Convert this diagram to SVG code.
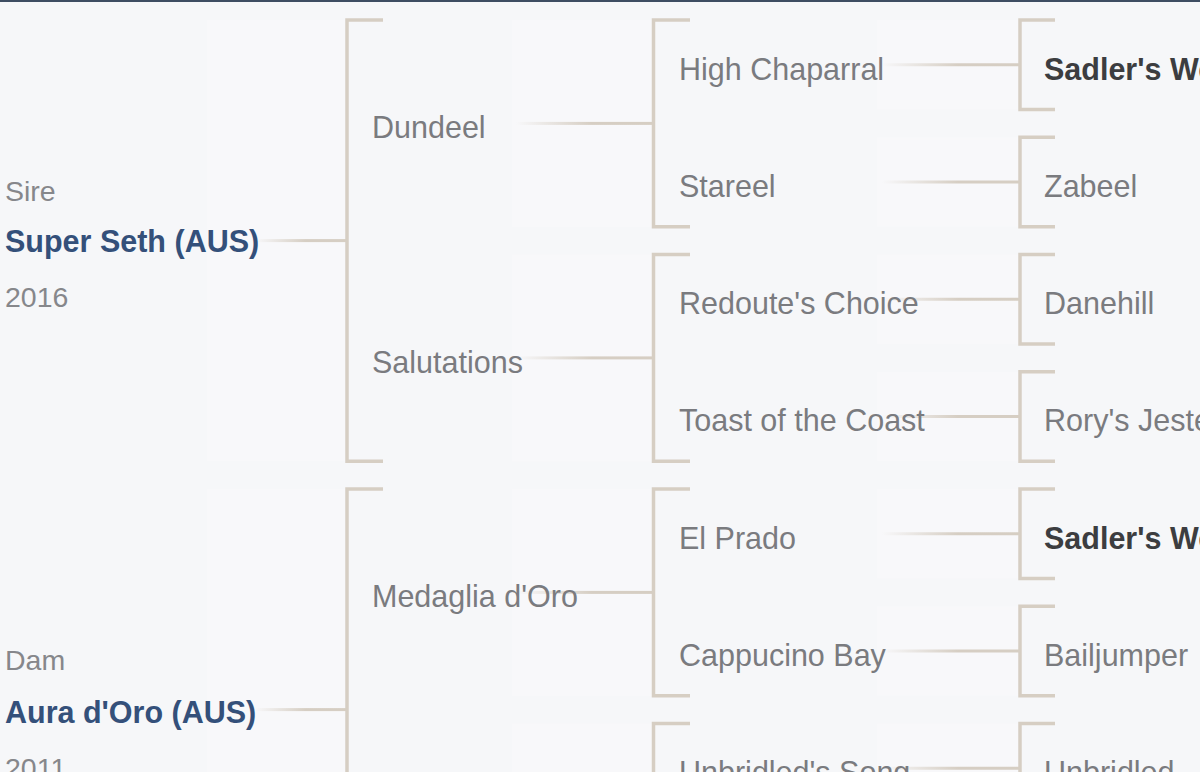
<svg xmlns="http://www.w3.org/2000/svg" width="1200" height="772" viewBox="0 0 1200 772">
<defs>
<linearGradient id="fade" x1="0" y1="0" x2="1" y2="0">
<stop offset="0" stop-color="#d6cec3" stop-opacity="0"/>
<stop offset="0.55" stop-color="#d6cec3" stop-opacity="1"/>
<stop offset="1" stop-color="#d6cec3" stop-opacity="1"/>
</linearGradient>
<style>
.bg{fill:#f6f7f9}
.panel{fill:#ffffff;opacity:0.22}
.br{fill:none;stroke:#d6cec3;stroke-width:3.5}
.con{fill:url(#fade)}
.nm{font-family:"Liberation Sans",Arial,sans-serif;font-size:30.5px;fill:#7a7b7f}
.bd{font-family:"Liberation Sans",Arial,sans-serif;font-size:30.5px;font-weight:700;fill:#3c3d40}
.main{font-family:"Liberation Sans",Arial,sans-serif;font-size:30.5px;font-weight:700;fill:#34507a}
.lb{font-family:"Liberation Sans",Arial,sans-serif;font-size:28.5px;fill:#86878b}
</style>
</defs>
<rect class="bg" x="0" y="0" width="1200" height="772"/>
<rect x="0" y="0" width="1200" height="2" fill="#3e4d62"/>
<g id="panels">
<rect class="panel" x="207" y="20" width="138" height="441"/>
<rect class="panel" x="207" y="489" width="138" height="441"/>
<rect class="panel" x="512" y="20" width="140" height="207"/>
<rect class="panel" x="512" y="254.5" width="140" height="207"/>
<rect class="panel" x="512" y="489" width="140" height="207"/>
<rect class="panel" x="512" y="723.5" width="140" height="207"/>
<rect class="panel" x="877" y="20" width="141" height="89.5"/>
<rect class="panel" x="877" y="137.25" width="141" height="89.5"/>
<rect class="panel" x="877" y="254.5" width="141" height="89.5"/>
<rect class="panel" x="877" y="371.75" width="141" height="89.5"/>
<rect class="panel" x="877" y="489" width="141" height="89.5"/>
<rect class="panel" x="877" y="606.25" width="141" height="89.5"/>
<rect class="panel" x="877" y="723.5" width="141" height="89.5"/>
</g>
<g id="connectors">
<path class="br" d="M383 20H347V461.25H383"/>
<path class="br" d="M383 489H347V930H383"/>
<path class="br" d="M690 20H653.5V226.75H690"/>
<path class="br" d="M690 254.5H653.5V461.25H690"/>
<path class="br" d="M690 489H653.5V695.75H690"/>
<path class="br" d="M690 723.5H653.5V930H690"/>
<path class="br" d="M1055 20H1020V109.5H1055"/>
<path class="br" d="M1055 137.25H1020V226.75H1055"/>
<path class="br" d="M1055 254.5H1020V344H1055"/>
<path class="br" d="M1055 371.75H1020V461.25H1055"/>
<path class="br" d="M1055 489H1020V578.5H1055"/>
<path class="br" d="M1055 606.25H1020V695.75H1055"/>
<path class="br" d="M1055 723.5H1020V813H1055"/>
<rect class="con" x="255" y="239.1" width="92" height="3"/>
<rect class="con" x="255" y="708.1" width="92" height="3"/>
<rect class="con" x="516" y="121.9" width="137.5" height="3"/>
<rect class="con" x="516" y="356.4" width="137.5" height="3"/>
<rect class="con" x="516" y="590.9" width="137.5" height="3"/>
<rect class="con" x="882" y="63.25" width="138" height="3"/>
<rect class="con" x="882" y="180.5" width="138" height="3"/>
<rect class="con" x="882" y="297.75" width="138" height="3"/>
<rect class="con" x="882" y="415" width="138" height="3"/>
<rect class="con" x="882" y="532.25" width="138" height="3"/>
<rect class="con" x="882" y="649.5" width="138" height="3"/>
<rect class="con" x="882" y="766.75" width="138" height="3"/>
</g>
<g id="sire">
<text class="lb" x="5" y="201">Sire</text>
<text class="main" x="5" y="252">Super Seth (AUS)</text>
<text class="lb" x="5" y="307">2016</text>
</g>
<g id="dam">
<text class="lb" x="5" y="670">Dam</text>
<text class="main" x="5" y="723">Aura d'Oro (AUS)</text>
<text class="lb" x="5" y="778">2011</text>
</g>
<g id="dundeel"><text class="nm" x="372" y="138">Dundeel</text></g>
<g id="salutations"><text class="nm" x="372" y="372.5">Salutations</text></g>
<g id="medaglia"><text class="nm" x="372" y="607">Medaglia d'Oro</text></g>
<g id="high-chaparral"><text class="nm" x="679" y="79.5">High Chaparral</text></g>
<g id="stareel"><text class="nm" x="679" y="196.5">Stareel</text></g>
<g id="redoutes-choice"><text class="nm" x="679" y="314">Redoute's Choice</text></g>
<g id="toast-of-the-coast"><text class="nm" x="679" y="431">Toast of the Coast</text></g>
<g id="el-prado"><text class="nm" x="679" y="548.5">El Prado</text></g>
<g id="cappucino-bay"><text class="nm" x="679" y="665.5">Cappucino Bay</text></g>
<g id="unbridleds-song"><text class="nm" x="679" y="783">Unbridled's Song</text></g>
<g id="sadlers-wells-1"><text class="bd" x="1044" y="79.5">Sadler's Wells</text></g>
<g id="zabeel"><text class="nm" x="1044" y="196.5">Zabeel</text></g>
<g id="danehill"><text class="nm" x="1044" y="314">Danehill</text></g>
<g id="rorys-jester"><text class="nm" x="1044" y="431">Rory's Jester</text></g>
<g id="sadlers-wells-2"><text class="bd" x="1044" y="548.5">Sadler's Wells</text></g>
<g id="bailjumper"><text class="nm" x="1044" y="665.5">Bailjumper</text></g>
<g id="unbridled"><text class="nm" x="1044" y="783">Unbridled</text></g>
</svg>
